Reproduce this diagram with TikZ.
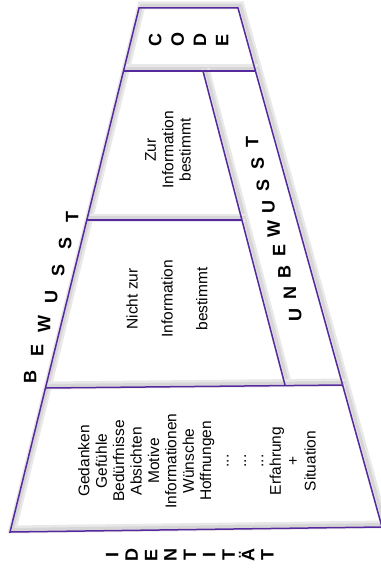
\documentclass[tikz,border=0pt]{standalone}
\usepackage{fontspec}
\setmainfont{Liberation Sans}
\definecolor{lila}{RGB}{86,42,158}
\tikzset{
  rand/.style={draw=lila, line width=1.5pt},
  schatten/.style={draw=black!9, line width=8pt, transform canvas={shift={(2.5pt,2.5pt)}},
    postaction={draw=black!16, line width=3pt}},
  buchstabe/.style={font=\bfseries\fontsize{18}{18}\selectfont, rotate=90, inner sep=0pt, text height=12.9pt, text depth=0pt},
  feldtext/.style={font=\fontsize{15.5}{17.4}\selectfont, rotate=90, align=center, inner sep=0pt}
}
% Linien der Pyramide, #1 = Stil
\newcommand{\pyramide}[1]{%
  \draw[#1] (139,8) -- (10,532) -- (382,527) -- (238,8) -- cycle;
  \draw[#1] (123,71) -- (255,71); % CODE
  \draw[#1] (203,71) -- (285,385); % unbewusst
  \draw[#1] (87,220) -- (242,220); % zur Information
  \draw[#1] (46,388) -- (343,385); % nicht zur Information
}
\begin{document}
\begin{tikzpicture}[x=1pt,y=-1pt]
  \useasboundingbox (0,0) rectangle (380,569);
  \fill[white] (0,0) rectangle (380,569);
  %Schatten
  \pyramide{schatten}
  %Linien
  \pyramide{rand}
  %Felder
  \node[feldtext] (zur) at (168,150) {Zur\\Information\\bestimmt};
  \node[feldtext] (nichtzur) at (167,299) {Nicht zur\\[17.4pt]Information\\[17.4pt]bestimmt};
  \node[feldtext] (liste) at (197,461) {Gedanken\\Gefühle\\Bedürfnisse\\Absichten\\Motive\\Informationen\\Wünsche\\Hoffnungen\\...\\...\\...\\Erfahrung\\+\\Situation};
  %Gesperrte Woerter
  \foreach \b [count=\i from 0] in {C,O,D,E}
    \node[buchstabe] (code\i) at ({155+22.3*\i},40) {\b};
  \foreach \b [count=\i from 0] in {B,E,W,U,S,S,T}
    \node[buchstabe] (bewusst\i) at ({30+7*\i},{377-26.7*\i}) {\b};
  \foreach \b [count=\i from 0] in {U,N,B,E,W,U,S,S,T}
    \node[buchstabe] (unbewusst\i) at ({295-5.375*\i},{315-21.6*\i}) {\b};
  \foreach \b [count=\i from 0] in {I,D,E,N,T,I,T,Ä,T}
    \node[buchstabe] (identitaet\i) at ({112+19.4*\i},555) {\b};
\end{tikzpicture}
\end{document}
